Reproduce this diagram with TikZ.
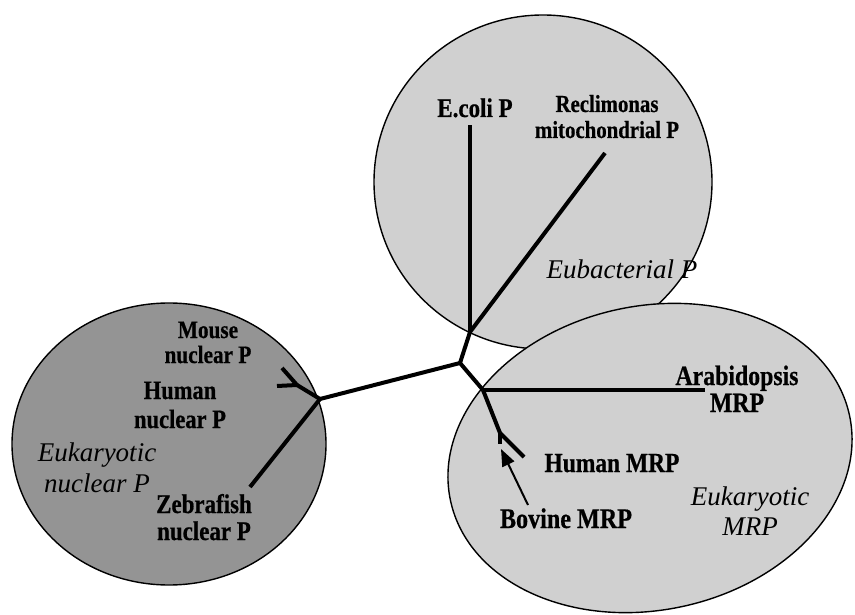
\documentclass[tikz,border=0pt]{standalone}
\usepackage{fontspec}
\setmainfont{Liberation Serif}
\newfontfamily\labfont[FakeStretch=0.85, FakeBold=0.6]{Liberation Serif}
\usetikzlibrary{arrows.meta}
\definecolor{darkfill}{RGB}{148,148,148}
\definecolor{lightfill}{RGB}{208,208,208}
\tikzset{
  blob/.style={draw=black, line width=1.4pt},
  branch/.style={line width=4pt, line cap=butt, line join=round},
  pointer/.style={line width=2pt, -{Triangle[length=17pt,width=13pt]}},
  lab/.style 2 args={font=\labfont\bfseries\fontsize{#1}{#2}\selectfont, align=center, inner sep=0pt, anchor=base},
  ital/.style={font=\itshape\fontsize{27}{#1}\selectfont, align=center, inner sep=0pt, anchor=base},
}
\begin{document}
\begin{tikzpicture}[x=1pt,y=-1pt]
\useasboundingbox (0,0) rectangle (855,615);
% clusters
\fill[darkfill] (169,444) ellipse [x radius=157pt, y radius=141pt];
\draw[blob] (169,444) ellipse [x radius=157pt, y radius=141pt];
\fill[lightfill] (543,182) ellipse [x radius=169pt, y radius=167pt];
\draw[blob] (543,182) ellipse [x radius=169pt, y radius=167pt];
\fill[lightfill, rotate around={12:(650,458)}] (650,458) ellipse [x radius=204pt, y radius=152pt];
\draw[blob, rotate around={12:(650,458)}] (650,458) ellipse [x radius=204pt, y radius=152pt];
% tree points
\coordinate (A) at (460,363);
\coordinate (B) at (470,332);
\coordinate (ecoliend) at (470,125);
\coordinate (reclend) at (605,153);
\coordinate (C) at (320,399);
\coordinate (D) at (297,385);
\coordinate (mouseend) at (282,368);
\coordinate (humanend) at (277,386);
\coordinate (zebraend) at (250,487);
\coordinate (E) at (483,390);
\coordinate (arabend) at (705,392);
\coordinate (F) at (500,433);
\coordinate (hmrpend) at (524,457);
\coordinate (bovend) at (500,444);
\coordinate (tail) at (528,505);
\coordinate (tip) at (501,449);
% branches
\draw[branch] (A) -- (B);
\draw[branch] (B) -- (ecoliend);
\draw[branch] (B) -- (reclend);
\draw[branch] (A) -- (C);
\draw[branch] (C) -- (D);
\draw[branch] (D) -- (mouseend);
\draw[branch] (D) -- (humanend);
\draw[branch] (C) -- (zebraend);
\draw[branch] (A) -- (E);
\draw[branch] (E) -- (arabend |- E);
\draw[branch] (E) -- (F);
\draw[branch] (F) -- (hmrpend);
\draw[branch] (F) -- (bovend);
\draw[pointer] (tail) -- (tip);
% labels (anchor = baseline of the last line)
\node[lab={27}{27}] (ecoli) at (475,117) {E.coli P};
\node[lab={24.5}{26}] (recl) at (607,138) {Reclimonas\\mitochondrial P};
\node[lab={25}{25}] (mouse) at (208,363) {Mouse\\nuclear P};
\node[lab={26.5}{29}] (hnuc) at (180,428) {Human\\nuclear P};
\node[lab={27}{27}] (zebra) at (204,540) {Zebrafish\\nuclear P};
\node[lab={28}{27}] (arab) at (737,412) {Arabidopsis\\MRP};
\node[lab={27.6}{27}] (hmrp) at (612,472) {Human MRP};
\node[lab={28.4}{27}] (bov) at (566,528) {Bovine MRP};
\node[ital=30] (eub) at (622,278) {Eubacterial P};
\node[ital=31] (eukn) at (97,492) {Eukaryotic\\nuclear P};
\node[ital=30] (eukm) at (750,535) {Eukaryotic\\MRP};
\end{tikzpicture}
\end{document}
